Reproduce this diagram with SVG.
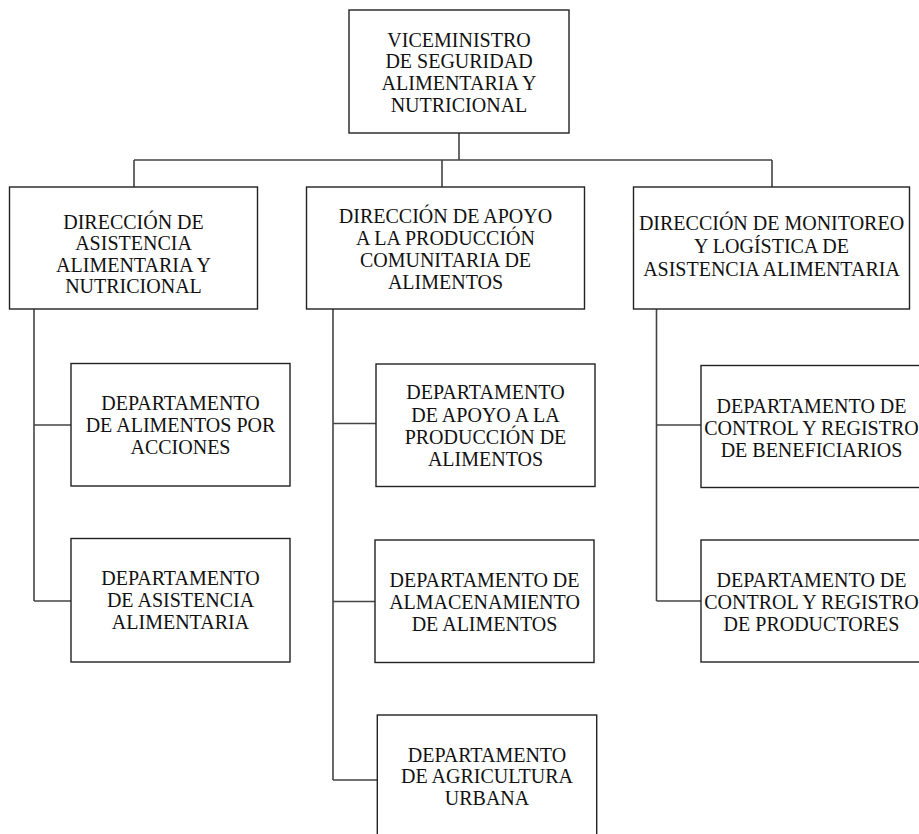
<svg xmlns="http://www.w3.org/2000/svg" width="919" height="834" viewBox="0 0 919 834">
<style>
.box{fill:#fff;stroke:#222;stroke-width:1.4}
.t{font-family:"Liberation Serif","DejaVu Serif",serif;font-size:20px;fill:#111;text-anchor:middle}
.c{fill:none;stroke:#444;stroke-width:1.6}
</style>
<rect width="919" height="834" fill="#fff"/>
<g id="connectors">
<path class="c" d="M459 133V160M134 160H772M134 160V187M442 160V187M772 160V187"/>
<path class="c" d="M34 309V601M34 425H71M34 601H71"/>
<path class="c" d="M333 309V780M333 423.5H376M333 601.5H375M333 780H377"/>
<path class="c" d="M656.5 309V601M656.5 425H701M656.5 601H701"/>
</g>
<g id="viceministro">
<rect class="box" x="349" y="10" width="220" height="123"/>
<text class="t" x="459"><tspan x="459" y="46.7">VICEMINISTRO</tspan><tspan x="459" y="68.3">DE SEGURIDAD</tspan><tspan x="459" y="90">ALIMENTARIA Y</tspan><tspan x="459" y="111.7">NUTRICIONAL</tspan></text>
</g>
<g id="dir-asistencia">
<rect class="box" x="9.5" y="187" width="248" height="122"/>
<text class="t"><tspan x="133.5" y="228.5">DIRECCIÓN DE</tspan><tspan x="133.5" y="250">ASISTENCIA</tspan><tspan x="133.5" y="271.5">ALIMENTARIA Y</tspan><tspan x="133.5" y="293">NUTRICIONAL</tspan></text>
</g>
<g id="dir-apoyo">
<rect class="box" x="306.5" y="187" width="278" height="122"/>
<text class="t"><tspan x="445.5" y="222.7">DIRECCIÓN DE APOYO</tspan><tspan x="445.5" y="244.5">A LA PRODUCCIÓN</tspan><tspan x="445.5" y="266.5">COMUNITARIA DE</tspan><tspan x="445.5" y="288.5">ALIMENTOS</tspan></text>
</g>
<g id="dir-monitoreo">
<rect class="box" x="633.5" y="187" width="276" height="122"/>
<text class="t"><tspan x="771.5" y="229.5">DIRECCIÓN DE MONITOREO</tspan><tspan x="771.5" y="252.5">Y LOGÍSTICA DE</tspan><tspan x="771.5" y="275.5">ASISTENCIA ALIMENTARIA</tspan></text>
</g>
<g id="dep-alimentos-acciones">
<rect class="box" x="71" y="363.5" width="219" height="122.5"/>
<text class="t"><tspan x="180.5" y="410">DEPARTAMENTO</tspan><tspan x="180.5" y="432">DE ALIMENTOS POR</tspan><tspan x="180.5" y="454">ACCIONES</tspan></text>
</g>
<g id="dep-asistencia">
<rect class="box" x="71" y="538.5" width="219" height="123.5"/>
<text class="t"><tspan x="180.5" y="585">DEPARTAMENTO</tspan><tspan x="180.5" y="607">DE ASISTENCIA</tspan><tspan x="180.5" y="629">ALIMENTARIA</tspan></text>
</g>
<g id="dep-apoyo-produccion">
<rect class="box" x="376" y="364" width="219" height="122.5"/>
<text class="t"><tspan x="485.5" y="399.3">DEPARTAMENTO</tspan><tspan x="485.5" y="421.5">DE APOYO A LA</tspan><tspan x="485.5" y="443.7">PRODUCCIÓN DE</tspan><tspan x="485.5" y="465.9">ALIMENTOS</tspan></text>
</g>
<g id="dep-almacenamiento">
<rect class="box" x="375" y="540" width="219" height="122.5"/>
<text class="t"><tspan x="484.5" y="586.7">DEPARTAMENTO DE</tspan><tspan x="484.5" y="608.7">ALMACENAMIENTO</tspan><tspan x="484.5" y="630.7">DE ALIMENTOS</tspan></text>
</g>
<g id="dep-agricultura">
<rect class="box" x="377.3" y="715" width="219.4" height="125"/>
<text class="t"><tspan x="487" y="761.5">DEPARTAMENTO</tspan><tspan x="487" y="783.3">DE AGRICULTURA</tspan><tspan x="487" y="805">URBANA</tspan></text>
</g>
<g id="dep-beneficiarios">
<rect class="box" x="701" y="365.5" width="221" height="122"/>
<text class="t"><tspan x="811.5" y="413.3">DEPARTAMENTO DE</tspan><tspan x="811.5" y="435">CONTROL Y REGISTRO</tspan><tspan x="811.5" y="456.7">DE BENEFICIARIOS</tspan></text>
</g>
<g id="dep-productores">
<rect class="box" x="701" y="540" width="221" height="122"/>
<text class="t"><tspan x="811.5" y="587.3">DEPARTAMENTO DE</tspan><tspan x="811.5" y="609">CONTROL Y REGISTRO</tspan><tspan x="811.5" y="630.7">DE PRODUCTORES</tspan></text>
</g>
</svg>
